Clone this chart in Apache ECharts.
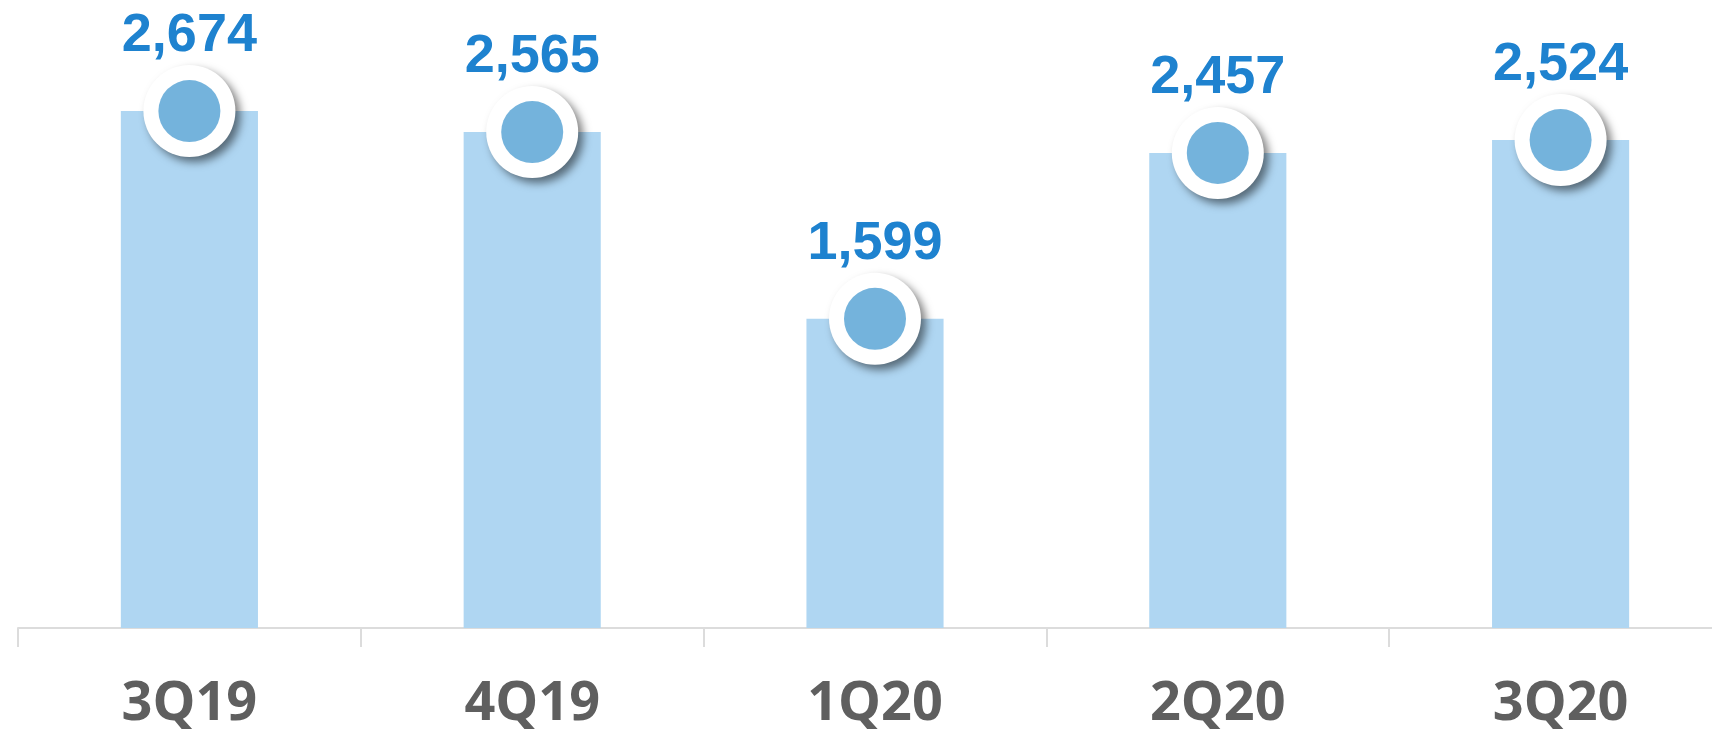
<!DOCTYPE html>
<html>
<head>
<meta charset="utf-8">
<script src="https://cdn.jsdelivr.net/npm/echarts@6/dist/echarts.min.js"></script>
<style>
  html, body { margin: 0; padding: 0; background: #fff; }
  #chart { width: 1712px; height: 730px; }
</style>
</head>
<body>
<div id="chart"></div>
<script>
const quarters = ['3Q19', '4Q19', '1Q20', '2Q20', '3Q20']
const values = [2674, 2565, 1599, 2457, 2524]

const chart = echarts.init(document.getElementById('chart'))

chart.setOption({
  animation: false,
  grid: { left: 18, width: 1714, top: 48, bottom: 102, outerBoundsMode: 'none' },
  xAxis: {
    type: 'category',
    data: quarters,
    axisLine: { lineStyle: { color: '#dcdcdc', width: 2 } },
    axisTick: { show: true, length: 19, lineStyle: { color: '#dcdcdc', width: 2 } },
    axisLabel: {
      color: '#5f5f5f',
      fontSize: 54,
      fontWeight: 'bold',
      fontFamily: 'Open Sans, sans-serif',
      margin: 50
    }
  },
  yAxis: {
    type: 'value',
    min: 0,
    max: 3000,
    show: false,
    splitLine: { show: false }
  },
  series: [
    {
      type: 'bar',
      data: values,
      barWidth: '40%',
      itemStyle: { color: '#afd6f2' },
      label: {
        show: true,
        position: 'top',
        distance: 48,
        color: '#1e82cf',
        fontSize: 54,
        fontWeight: 'bold',
        fontFamily: 'Liberation Sans, Arial, sans-serif',
        formatter: p => p.value.toLocaleString('en-US')
      },
      z: 1
    },
    {
      type: 'scatter',
      data: values,
      symbol: 'circle',
      symbolSize: 92,
      itemStyle: {
        color: '#ffffff',
        opacity: 1,
        shadowColor: 'rgba(0, 0, 0, 0.5)',
        shadowBlur: 9,
        shadowOffsetX: 5,
        shadowOffsetY: 5
      },
      z: 2
    },
    {
      type: 'scatter',
      data: values,
      symbol: 'circle',
      symbolSize: 62,
      itemStyle: { color: '#74b3dc', opacity: 1 },
      z: 3
    }
  ]
})
</script>
</body>
</html>
